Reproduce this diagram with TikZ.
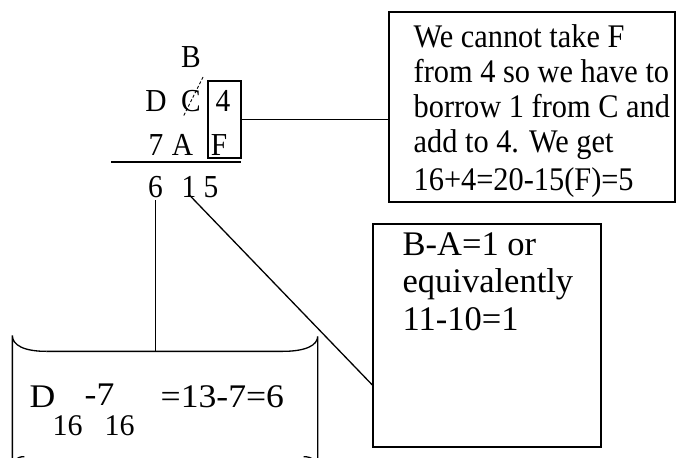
\documentclass[tikz,border=0pt]{standalone}
\usepackage{fontspec}
\setmainfont{Liberation Serif}
\newfontfamily\tallserif[FakeStretch=0.92]{Liberation Serif}
\newfontfamily\wideserif[FakeStretch=1.08]{Liberation Serif}
\begin{document}
\begin{tikzpicture}[x=1pt,y=-1pt,
  line width=1.3pt,
  digit/.style={inner sep=0pt,anchor=base,font=\tallserif\fontsize{32}{34}\selectfont},
  rtext/.style={inner sep=0pt,anchor=base west,font=\tallserif\fontsize{33}{36}\selectfont},
  mtext/.style={inner sep=0pt,anchor=base west,font=\fontsize{34.5}{37}\selectfont},
  btext/.style={inner sep=0pt,anchor=base west,font=\wideserif\fontsize{33}{37}\selectfont},
  stext/.style={inner sep=0pt,anchor=base west,font=\fontsize{30}{32}\selectfont},
  boxed/.style={draw,inner sep=0pt}]
\useasboundingbox (0,0) rectangle (676,457);
% digits
\node[digit] (B) at (191,68) {B};
\node[digit] (D) at (156,112) {D};
\node[digit] (C) at (191,112) {C};
\node[digit] (four) at (223,112) {4};
\node[digit] (seven) at (156,155) {7};
\node[digit] (A) at (182.5,155) {A};
\node[digit] (F) at (219,155) {F};
\node[digit] (six) at (155.5,197) {6};
\node[digit] (one) at (189,197) {1};
\node[digit] (five) at (211,197) {5};
\draw[line width=0.9pt,densely dashed] (203,77) -- (183,117);
\node[boxed,minimum width=33pt,minimum height=77pt] (fbox) at (224.5,119.5) {};
\draw (111,162) -- (241,162);
% right box
\node[boxed,minimum width=286pt,minimum height=190pt] (rbox) at (532,107) {};
\node[rtext] (r1) at (413,48) {We cannot take F};
\node[rtext] (r2) at (413,83) {from 4 so we have to};
\node[rtext] (r3) at (413,118) {borrow 1 from C and};
\node[rtext] (r4) at (413,153) {add to 4. We get};
\node[rtext] (r5) at (413,190) {16+4=20-15(F)=5};
% middle box
\node[boxed,minimum width=228pt,minimum height=223pt] (mbox) at (487,335.5) {};
\node[mtext] (m1) at (402,255) {B-A=1 or};
\node[mtext] (m2) at (402,292) {equivalently};
\node[mtext] (m3) at (402,330) {11-10=1};
% rounded box
\node[inner sep=0pt,minimum width=304pt,minimum height=104pt] (lbox) at (165,404) {};
\draw ([xshift=34pt]lbox.north west) -- ([xshift=-35pt]lbox.north east)
  .. controls ([xshift=-12pt]lbox.north east) and ([yshift=6pt]lbox.north east) .. ([yshift=15pt]lbox.north east)
  -- ([yshift=-10pt]lbox.south east)
  .. controls ([yshift=-4pt]lbox.south east) and ([xshift=-6pt]lbox.south east) .. ([xshift=-14pt]lbox.south east);
\draw ([xshift=34pt]lbox.north west)
  .. controls ([xshift=12pt]lbox.north west) and ([yshift=6pt]lbox.north west) .. ([yshift=16pt]lbox.north west)
  -- ([yshift=-12pt]lbox.south west)
  .. controls ([yshift=-4pt]lbox.south west) and ([xshift=4pt]lbox.south west) .. ([xshift=12pt]lbox.south west);
\node[btext] (l1) at (29,407) {D};
\node[stext] (l2) at (52,435) {16};
\node[btext] (l3) at (84,405) {-7};
\node[stext] (l4) at (104,435) {16};
\node[btext] (l5) at (160,407) {=13-7=6};
% connectors
\coordinate (oneb) at ([yshift=3pt]one.south);
\draw (fbox.east) -- (rbox.west |- fbox.east);
\draw (oneb) -- (mbox.west |- 0,385);
\coordinate (sixb) at (six.south |- 0,200);
\draw (sixb) -- (sixb |- lbox.north);
\end{tikzpicture}
\end{document}
